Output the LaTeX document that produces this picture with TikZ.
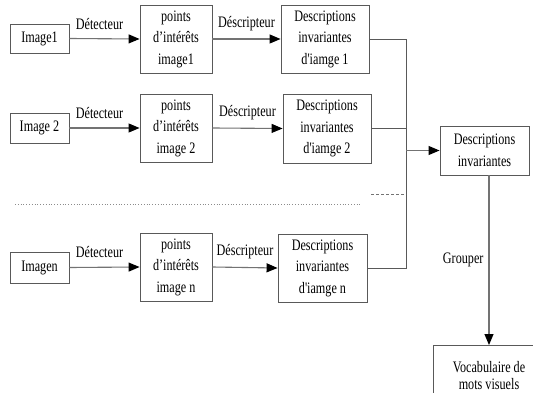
\documentclass[tikz,border=0pt]{standalone}
\usepackage{fontspec}
\setmainfont[FakeStretch=0.76,Ligatures=TeXOff]{Liberation Serif}
\usetikzlibrary{arrows.meta}
\tikzset{
  box/.style={draw=black!65,line width=0.9pt,align=center,inner sep=0pt,
    font=\fontsize{16}{21.5}\selectfont},
  flow/.style={draw=black!55,line width=1.1pt,-{Triangle[length=11pt,width=9pt,black]}},
  lbl/.style={font=\fontsize{16}{17}\selectfont,inner sep=1pt}
}
\begin{document}
\begin{tikzpicture}[x=1pt,y=-1pt]
  \clip (0,0) rectangle (533,393);
  \fill[white] (0,0) rectangle (533,393);
  \node[box,minimum width=59pt,minimum height=29pt] (img1) at (39.5,38.5) {Image1};
  \node[box,minimum width=59pt,minimum height=30pt] (img2) at (39.5,128) {Image 2};
  \node[box,minimum width=59pt,minimum height=31pt] (imgn) at (39.5,267.5) {Imagen};
  \node[box,minimum width=72pt,minimum height=68pt] (pts1) at (176,39) {points\\d’intérêts\\image1};
  \node[box,minimum width=72pt,minimum height=68pt] (pts2) at (176,128) {points\\d’intérêts\\image 2};
  \node[box,minimum width=72pt,minimum height=68pt] (ptsn) at (176,267) {points\\d’intérêts\\image n};
  \node[box,minimum width=88pt,minimum height=68pt] (desc1) at (325,39) {Descriptions\\invariantes\\d'iamge 1};
  \node[box,minimum width=88pt,minimum height=69pt] (desc2) at (327,128.5) {Descriptions\\invariantes\\d'iamge 2};
  \node[box,minimum width=89pt,minimum height=68pt] (descn) at (322.5,268) {Descriptions\\invariantes\\d'iamge n};
  \node[box,minimum width=89pt,minimum height=49pt] (inv) at (484.5,150.5) {Descriptions\\invariantes};
  \node[box,minimum width=112pt,minimum height=60pt,anchor=north] (voc) at (489,345) {\raisebox{-8pt}{\shortstack{Vocabulaire de\\[3pt]mots visuels}}};
  \coordinate (bus) at (406,0);
  \foreach \r in {1,2,n} {
    \draw[flow] (img\r.east) -- node[lbl,above=8pt,xshift=-5pt] {Détecteur} (pts\r.west);
    \draw[flow] (pts\r.east) -- node[lbl,above=7pt] {Déscripteur} (desc\r.west);
  }
  \draw[draw=black!65,line width=0.9pt] (desc1.east) -| (bus |- descn.east) -- (descn.east);
  \draw[draw=black!65,line width=0.9pt] (desc2.east) -- (desc2.east -| bus);
  \draw[flow] (bus |- inv.west) -- (inv.west);
  \draw[flow] (inv.south -| voc.north) -- node[lbl,left=4pt] {Grouper} (voc.north);
  \draw[black!45,dotted,line width=0.8pt] (15,204) -- (362,204);
  \draw[black!55,densely dashed,line width=0.8pt] (371,194) -- (bus |- 0,194);
\end{tikzpicture}
\end{document}
